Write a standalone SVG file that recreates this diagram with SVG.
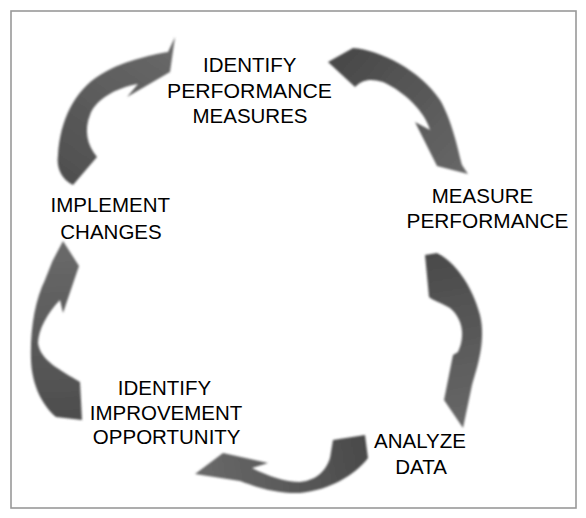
<svg xmlns="http://www.w3.org/2000/svg" width="586" height="518" viewBox="0 0 586 518">
<defs>
<style>
.lbl{font-family:"Liberation Sans",Arial,sans-serif;font-size:20.5px;fill:#000;}
.arr{filter:url(#soft);}
</style>
<filter id="soft" x="-10%" y="-10%" width="120%" height="120%"><feGaussianBlur stdDeviation="0.9"/></filter>
<linearGradient id="g1" gradientUnits="userSpaceOnUse" x1="330" y1="55" x2="465" y2="170"><stop offset="0" stop-color="#474747"/><stop offset="1" stop-color="#676767"/></linearGradient>
<linearGradient id="g2" gradientUnits="userSpaceOnUse" x1="430" y1="255" x2="462" y2="425"><stop offset="0" stop-color="#4a4a4a"/><stop offset="1" stop-color="#686868"/></linearGradient>
<linearGradient id="g3" gradientUnits="userSpaceOnUse" x1="365" y1="440" x2="195" y2="474"><stop offset="0" stop-color="#4a4a4a"/><stop offset="1" stop-color="#6a6a6a"/></linearGradient>
<linearGradient id="g4" gradientUnits="userSpaceOnUse" x1="70" y1="420" x2="63" y2="241"><stop offset="0" stop-color="#4d4d4d"/><stop offset="1" stop-color="#6a6a6a"/></linearGradient>
<linearGradient id="g5" gradientUnits="userSpaceOnUse" x1="73" y1="185" x2="175" y2="37"><stop offset="0" stop-color="#4f4f4f"/><stop offset="1" stop-color="#6a6a6a"/></linearGradient>
</defs>
<rect x="0" y="0" width="586" height="518" fill="#fff"/>
<rect x="11" y="11" width="565" height="497" fill="#fff" stroke="#999" stroke-width="1.6"/>
<g id="connectors">
<path class="arr" fill="url(#g1)" d="M328,62 L353,48 C380,50 420,70 440,100 C452,120 458,150 462,165 L468,174 L437,166 L415,122 L430,130 C425,112 405,92 383,82 C370,78 362,80 355,87 Z"/>
<path class="arr" fill="url(#g2)" d="M425,255 L437,253 C455,262 472,285 480,315 C486,340 478,365 472,385 L463,428 L444,400 L453,355 L458,352 C466,335 462,318 450,308 C440,302 432,300 429,297 Z"/>
<path class="arr" fill="url(#g3)" d="M333,440 L365,435 L368,458 C355,475 330,490 300,493 C280,494 258,488 240,481 L195,474 L223,453 L268,463 L252,468 C268,476 285,482 300,482 C318,480 326,470 330,458 Z"/>
<path class="arr" fill="url(#g4)" d="M63,241 L79,266 L63,313 L60,300 C48,312 38,330 38,343 C40,360 60,370 80,382 L82,420 L56,417 C42,405 32,385 31,360 C30,330 35,300 45,280 C49,270 52,262 53,260 Z"/>
<path class="arr" fill="url(#g5)" d="M175,37 L170,72 L127,97 L138,84 C115,88 95,100 90,115 C84,130 87,145 97,157 L73,185 C62,180 56,168 58,155 C60,120 75,90 100,75 C120,62 150,55 168,52 Z"/>
</g>
<g id="node-identify-performance" text-anchor="middle">
<text class="lbl" x="249.7" y="72">IDENTIFY</text>
<text class="lbl" x="249.5" y="97.5" textLength="165" lengthAdjust="spacingAndGlyphs">PERFORMANCE</text>
<text class="lbl" x="250" y="123">MEASURES</text>
</g>
<g id="node-measure-performance" text-anchor="middle">
<text class="lbl" x="482.5" y="203">MEASURE</text>
<text class="lbl" x="487.5" y="228" textLength="162" lengthAdjust="spacingAndGlyphs">PERFORMANCE</text>
</g>
<g id="node-analyze-data" text-anchor="middle">
<text class="lbl" x="420" y="448">ANALYZE</text>
<text class="lbl" x="421" y="473.5">DATA</text>
</g>
<g id="node-identify-improvement" text-anchor="middle">
<text class="lbl" x="164.5" y="395">IDENTIFY</text>
<text class="lbl" x="166" y="419.5">IMPROVEMENT</text>
<text class="lbl" x="166.7" y="444">OPPORTUNITY</text>
</g>
<g id="node-implement-changes" text-anchor="middle">
<text class="lbl" x="110.3" y="212">IMPLEMENT</text>
<text class="lbl" x="111" y="238.5">CHANGES</text>
</g>
</svg>
